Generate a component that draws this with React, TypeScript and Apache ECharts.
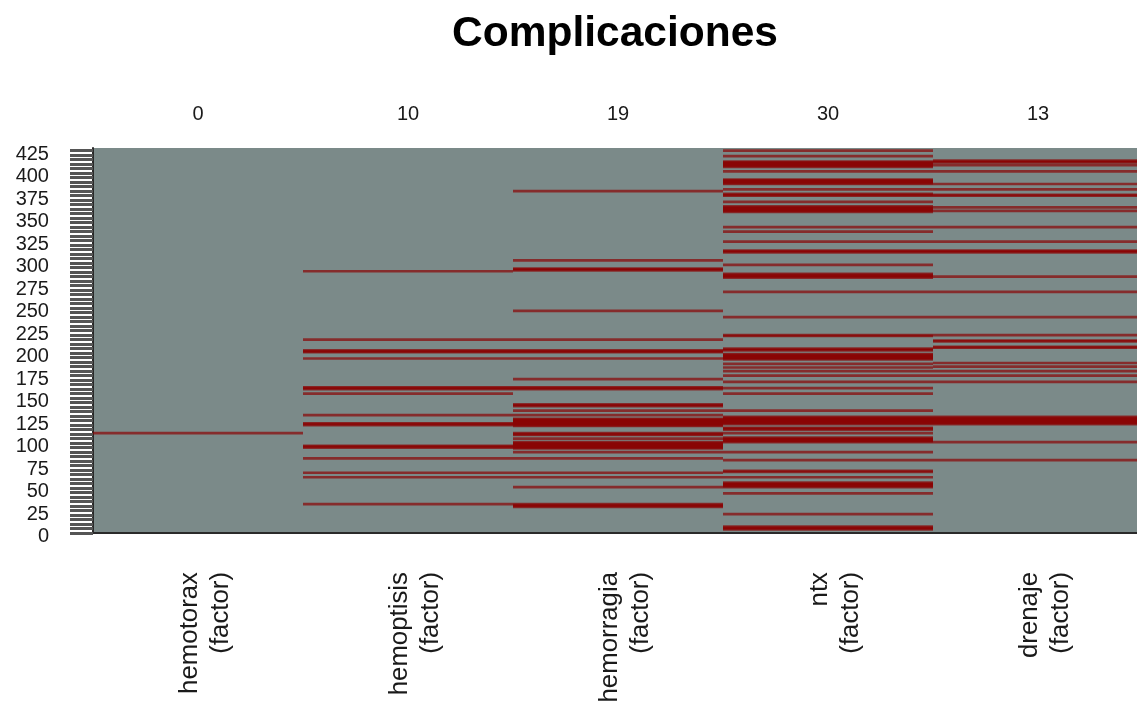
import React, { useEffect, useRef } from "react";
import * as echarts from "echarts";

const chartTitle = "Complicaciones";
const variables = ["hemotorax\n(factor)", "hemoptisis\n(factor)", "hemorragia\n(factor)", "ntx\n(factor)", "drenaje\n(factor)"];
const missingPercent = ["0", "10", "19", "30", "13"];
const rowCount = 428;
const tickStep = 5;
const labelStep = 25;

const hemotoraxRows = [111];
const hemoptisisRows = [291, 215, 201, 202, 203, 194, 160, 161, 162, 155, 131, 120, 121, 122, 95, 96, 97, 83, 67, 62, 32];
const hemorragiaRows = [380, 303, 292, 293, 294, 247, 215, 201, 202, 203, 194, 171, 160, 161, 162, 141, 142, 143, 136, 131, 119, 120, 121, 122, 123, 124, 125, 126, 127, 109, 110, 111, 105, 94, 95, 96, 97, 98, 99, 100, 101, 90, 83, 67, 62, 51, 29, 30, 31, 32];
const ntxRows = [425, 419, 407, 408, 409, 410, 411, 412, 413, 402, 388, 389, 390, 391, 392, 393, 382, 375, 376, 377, 368, 357, 358, 359, 360, 361, 362, 363, 340, 335, 324, 312, 313, 314, 298, 288, 284, 285, 286, 287, 268, 240, 219, 220, 203, 204, 205, 193, 194, 195, 196, 197, 198, 199, 188, 184, 180, 175, 168, 161, 155, 136, 121, 122, 123, 124, 125, 126, 127, 128, 129, 115, 116, 117, 111, 101, 102, 103, 104, 105, 106, 90, 81, 68, 69, 62, 51, 52, 53, 54, 55, 56, 44, 21, 4, 5, 6, 7];
const drenajeRows = [412, 413, 414, 409, 402, 388, 382, 375, 376, 362, 358, 340, 324, 312, 313, 314, 285, 268, 240, 220, 213, 214, 206, 207, 189, 185, 180, 175, 168, 121, 122, 123, 124, 125, 126, 127, 128, 129, 101, 81];
const columns = [hemotoraxRows, hemoptisisRows, hemorragiaRows, ntxRows, drenajeRows];

const fontFamily = "'Liberation Sans', Arial, sans-serif";

export default function App() {
  const ref = useRef<HTMLDivElement>(null);
  useEffect(() => {
    const chart = echarts.init(ref.current!, undefined, { renderer: "svg" });
    chart.setOption({
      animation: false,
      backgroundColor: "#ffffff",
      title: {
        text: chartTitle,
        left: 610,
        top: 5,
        textAlign: "center",
        textStyle: { fontFamily, fontSize: 42.5, fontWeight: "bold", color: "#000000" },
      },
      grid: { left: 93, top: 148, width: 1050, height: 385, show: true, backgroundColor: "#7b8a89", borderWidth: 0, outerBoundsMode: "none" },
      xAxis: [
        {
          type: "category",
          position: "bottom",
          data: variables,
          axisLine: { show: true, lineStyle: { color: "#2a2a2a", width: 2 } },
          axisTick: { show: false },
          axisLabel: {
            interval: 0,
            rotate: 90,
            margin: 39,
            fontFamily,
            fontSize: 25.8,
            lineHeight: 31,
            color: "#1a1a1a",
            verticalAlign: "top",
            padding: [-26, 0, 0, 0],
          },
        },
        {
          type: "category",
          position: "top",
          data: missingPercent,
          axisLine: { show: false },
          axisTick: { show: false },
          axisLabel: { interval: 0, margin: 25, fontFamily, fontSize: 20, color: "#1a1a1a" },
        },
      ],
      yAxis: {
        type: "value",
        min: 0,
        max: rowCount,
        interval: tickStep,
        splitLine: { show: false },
        axisLine: { show: true, lineStyle: { color: "#2a2a2a", width: 2 } },
        axisTick: { show: true, length: 23, lineStyle: { color: "#555555", width: 3 } },
        axisLabel: {
          margin: 44,
          fontFamily,
          fontSize: 20,
          lineHeight: 4,
          verticalAlign: "top",
          color: "#1a1a1a",
          showMaxLabel: false,
          hideOverlap: false,
          formatter: (v: number) => (v % labelStep === 0 ? String(v) : ""),
        },
      },
      series: columns.map((rows, col) => ({
        type: "custom",
        name: variables[col].split("\n")[0],
        coordinateSystem: "cartesian2d",
        xAxisIndex: 0,
        yAxisIndex: 0,
        silent: true,
        data: rows.map((r) => [col, r]),
        encode: { x: 0, y: 1 },
        renderItem: (_params: any, api: any) => {
          const p = api.coord([api.value(0), api.value(1)]);
          const size = api.size([1, 0]);
          const thickness = 2.7;
          return {
            type: "rect",
            shape: { x: p[0] - size[0] / 2, y: p[1] - thickness / 2, width: size[0], height: thickness },
            style: { fill: "rgba(139,0,0,0.68)" },
          };
        },
      })),
    });
    return () => chart.dispose();
  }, []);
  return (
    <div
      ref={ref}
      style={{ position: "absolute", left: 0, top: 0, width: 1137, height: 702, overflow: "hidden", filter: "blur(0.5px)" }}
    />
  );
}
